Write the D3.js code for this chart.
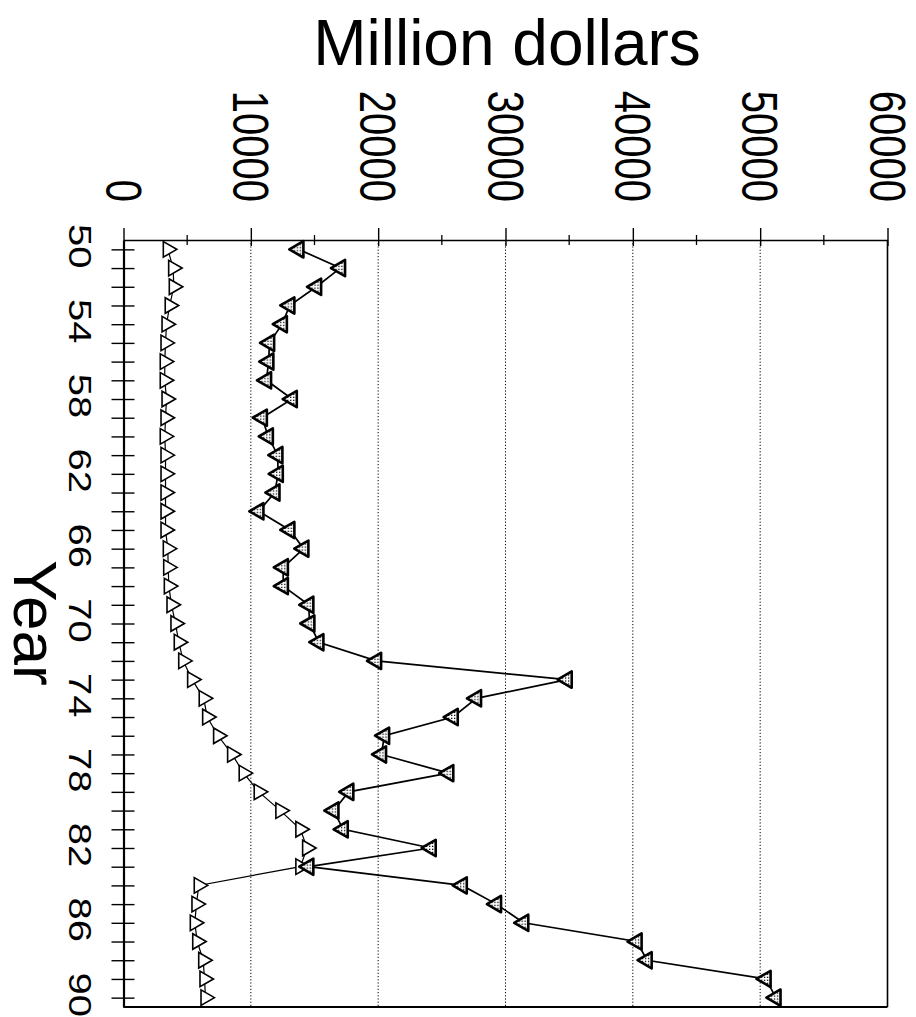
<!DOCTYPE html>
<html>
<head>
<meta charset="utf-8">
<script src="https://cdn.jsdelivr.net/npm/d3@7"></script>
<style>
  body { margin: 0; background: #fff; }
  text { font-family: "Liberation Sans", Arial, sans-serif; fill: #000; }
</style>
</head>
<body>
<div id="chart"></div>
<script>
// years on the (rotated) category axis
var years = d3.range(1950, 1991);
var yearLabels = [1950, 1954, 1958, 1962, 1966, 1970, 1974, 1978, 1982, 1986, 1990];
var valueTicks = [0, 10000, 20000, 30000, 40000, 50000, 60000];
var minorTicks = [5000, 15000, 25000, 35000, 45000, 55000];

// open triangles
var seriesA = [3480, 3900, 3950, 3630, 3380, 3300, 3240, 3240, 3380, 3300,
               3240, 3300, 3300, 3300, 3300, 3300, 3480, 3510, 3560, 3770,
               4080, 4340, 4690, 5390, 6300, 6570, 7430, 8530, 9440, 10620,
               12320, 13890, 14420, 13890, 5910, 5730, 5600, 5790, 6260, 6360,
               6440];
// stippled triangles
var seriesB = [13760, 17030, 15150, 13050, 12460, 11460, 11400, 11220, 13240, 10890,
               11360, 12110, 12140, 11880, 10620, 13050, 14150, 12540, 12540, 14540,
               14620, 15330, 19860, 34830, 27710, 25880, 20490, 20250, 25530, 17680,
               16510, 17240, 24150, 14540, 26590, 29280, 31420, 40320, 41110, 50450,
               51230];

var W = 916, H = 1017;
var svg = d3.select("#chart").append("svg")
  .attr("width", W).attr("height", H);

svg.append("rect").attr("width", W).attr("height", H).attr("fill", "#fff");

var defs = svg.append("defs");
var pat = defs.append("pattern").attr("id", "dots")
  .attr("width", 3).attr("height", 3).attr("patternUnits", "userSpaceOnUse");
pat.append("rect").attr("width", 3).attr("height", 3).attr("fill", "#fff");
pat.append("rect").attr("x", 1).attr("y", 1).attr("width", 1.3).attr("height", 1.3).attr("fill", "#000");

// value runs left->right, year runs top->bottom
var x = d3.scaleLinear().domain([0, 60000]).range([123.5, 887.5]);
var y = d3.scaleLinear().domain([1949.5, 1990.5]).range([240, 1007]);

// dotted grid
svg.append("g").selectAll("line")
  .data(valueTicks.slice(1, -1))
  .enter().append("line")
  .attr("x1", function (d) { return x(d); })
  .attr("x2", function (d) { return x(d); })
  .attr("y1", y.range()[0]).attr("y2", y.range()[1])
  .attr("stroke", "#000").attr("stroke-width", 1)
  .attr("stroke-dasharray", "1.2,2");

// frame: right and bottom
svg.append("line")
  .attr("x1", x(60000)).attr("x2", x(60000))
  .attr("y1", y.range()[0]).attr("y2", y.range()[1])
  .attr("stroke", "#000").attr("stroke-width", 1.6);
svg.append("line")
  .attr("x1", x(0)).attr("x2", x(60000))
  .attr("y1", y.range()[1]).attr("y2", y.range()[1])
  .attr("stroke", "#000").attr("stroke-width", 2.2);

var dataA = years.map(function (yr, i) { return {year: yr, v: seriesA[i]}; });
var dataB = years.map(function (yr, i) { return {year: yr, v: seriesB[i]}; });

var line = d3.line()
  .x(function (d) { return x(d.v); })
  .y(function (d) { return y(d.year); });

svg.append("path").datum(dataA).attr("d", line)
  .attr("fill", "none").attr("stroke", "#000").attr("stroke-width", 1.2);
svg.append("path").datum(dataB).attr("d", line)
  .attr("fill", "none").attr("stroke", "#000").attr("stroke-width", 1.7);

var triA = d3.symbol().type(d3.symbolTriangle).size(105);
var triB = d3.symbol().type(d3.symbolTriangle).size(115);

svg.append("g").selectAll("path").data(dataA)
  .enter().append("path")
  .attr("d", triA)
  .attr("transform", function (d) { return "translate(" + x(d.v) + "," + y(d.year) + ") rotate(90)"; })
  .attr("fill", "#fff").attr("stroke", "#000").attr("stroke-width", 1.6);

svg.append("g").selectAll("path").data(dataB)
  .enter().append("path")
  .attr("d", triB)
  .attr("transform", function (d) { return "translate(" + x(d.v) + "," + y(d.year) + ") rotate(-90)"; })
  .attr("fill", "url(#dots)").attr("stroke", "#000").attr("stroke-width", 2.6)
  .attr("stroke-linejoin", "round");

// top value axis
var topAxis = svg.append("g")
  .attr("transform", "translate(0," + y.range()[0] + ")")
  .call(d3.axisTop(x).tickValues(valueTicks).tickSize(12).tickSizeOuter(0).tickFormat(""));
topAxis.select(".domain").attr("stroke-width", 1.6);
topAxis.selectAll(".tick line").attr("y2", -12).attr("y1", 6).attr("stroke-width", 1.4);

svg.append("g").selectAll("line").data(minorTicks)
  .enter().append("line")
  .attr("x1", function (d) { return x(d); })
  .attr("x2", function (d) { return x(d); })
  .attr("y1", y.range()[0] - 5).attr("y2", y.range()[0] + 5)
  .attr("stroke", "#000").attr("stroke-width", 1.3);

svg.append("g").selectAll("text").data(valueTicks)
  .enter().append("text")
  .attr("transform", function (d) { return "translate(" + (x(d) - 18) + ",202) rotate(90) scale(1,1.26)"; })
  .attr("text-anchor", "end")
  .attr("font-size", 40)
  .text(function (d) { return d; });

// left year axis
var leftAxis = svg.append("g")
  .attr("transform", "translate(" + x(0) + ",0)")
  .call(d3.axisLeft(y).tickValues(years).tickSize(12).tickSizeOuter(0).tickFormat(""));
leftAxis.select(".domain").attr("stroke-width", 2.2);
leftAxis.selectAll(".tick line").attr("x1", 11).attr("x2", -12).attr("stroke-width", 1.4);

svg.append("g").selectAll("text").data(yearLabels)
  .enter().append("text")
  .attr("transform", function (d) { return "translate(69," + (y(d) - 3) + ") rotate(90) scale(1,0.78)"; })
  .attr("text-anchor", "middle")
  .attr("font-size", 40)
  .text(function (d) { return String(d).slice(2); });

// titles
svg.append("text")
  .attr("x", 507).attr("y", 65)
  .attr("text-anchor", "middle")
  .attr("font-size", 64)
  .text("Million dollars");

svg.append("text")
  .attr("transform", "translate(14,623) rotate(90)")
  .attr("text-anchor", "middle")
  .attr("font-size", 62)
  .text("Year");
</script>
</body>
</html>
